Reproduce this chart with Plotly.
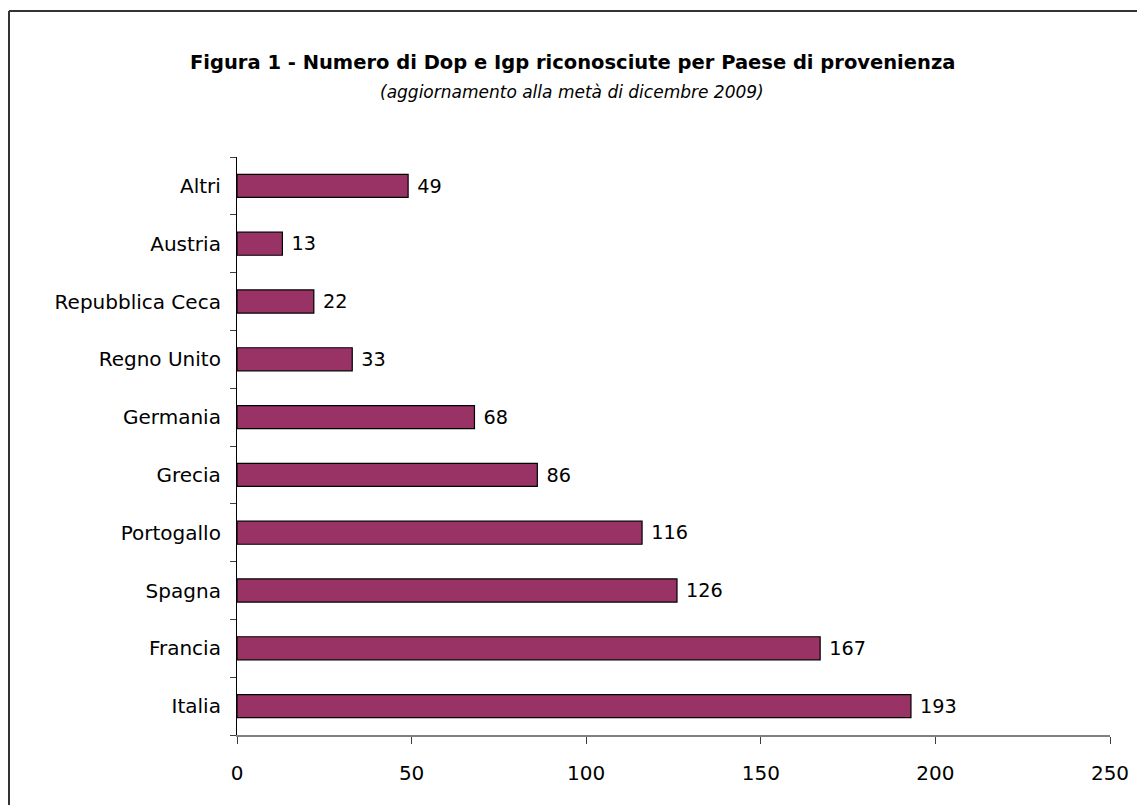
import plotly.graph_objects as go

categories = ["Italia", "Francia", "Spagna", "Portogallo", "Grecia", "Germania",
              "Regno Unito", "Repubblica Ceca", "Austria", "Altri"]
values = [193, 167, 126, 116, 86, 68, 33, 22, 13, 49]
x_ticks = [0, 50, 100, 150, 200, 250]

# page is drawn with an 8px body margin, compensate
OFF = 8
W, H = 1145 - OFF, 805 - OFF
L, T = 237 - OFF, 157 - OFF
R = W - (1110 - OFF)
B = H - (735 - OFF)
pw = W - L - R
ph = H - T - B

def px_x(p):
    return (p - OFF - L) / pw

def px_y(p):
    return (H - B - (p - OFF)) / ph

font = "DejaVu Sans"

fig = go.Figure(go.Bar(
    y=categories, x=values, orientation="h",
    marker=dict(color="#993366", line=dict(color="black", width=1.2)),
    text=["\u00a0" + str(v) for v in values], textposition="outside",
    textfont=dict(family=font, size=20, color="black"),
    cliponaxis=False,
))

frame = dict(color="#333333", width=2)
fig.update_layout(
    width=W, height=H,
    margin=dict(l=L, r=R, t=T, b=B),
    paper_bgcolor="white", plot_bgcolor="white",
    showlegend=False, bargap=0.6,
    font=dict(family=font, size=20, color="black"),
    xaxis=dict(range=[0, 250], tickvals=x_ticks, showgrid=False, zeroline=False,
               showline=True, linecolor="#808080", linewidth=1.5,
               ticks="outside", ticklen=7, tickcolor="#404040", tickwidth=1,
               ticklabelstandoff=12,
               tickfont=dict(family=font, size=20, color="black")),
    yaxis=dict(categoryorder="array", categoryarray=categories, showgrid=False,
               showline=True, linecolor="black", linewidth=1.2,
               ticks="outside", ticklen=6, tickcolor="#404040", tickwidth=1,
               tickson="boundaries", ticklabelstandoff=11,
               tickfont=dict(family=font, size=20, color="black")),
    shapes=[
        dict(type="line", xref="paper", yref="paper",
             x0=px_x(9), x1=px_x(1200), y0=px_y(11), y1=px_y(11), line=frame),
        dict(type="line", xref="paper", yref="paper",
             x0=px_x(9), x1=px_x(9), y0=px_y(11), y1=px_y(900), line=frame),
    ],
    annotations=[
        dict(text="<b>Figura 1 - Numero di Dop e Igp riconosciute per Paese di provenienza</b>",
             xref="paper", yref="paper", x=px_x(572), y=px_y(63), showarrow=False,
             xanchor="center", yanchor="middle", font=dict(family=font, size=19.5, color="black")),
        dict(text="<i>(aggiornamento alla metà di dicembre 2009)</i>",
             xref="paper", yref="paper", x=px_x(572), y=px_y(92), showarrow=False,
             xanchor="center", yanchor="middle", font=dict(family=font, size=17, color="black")),
    ],
)

fig.write_html("out.html")
